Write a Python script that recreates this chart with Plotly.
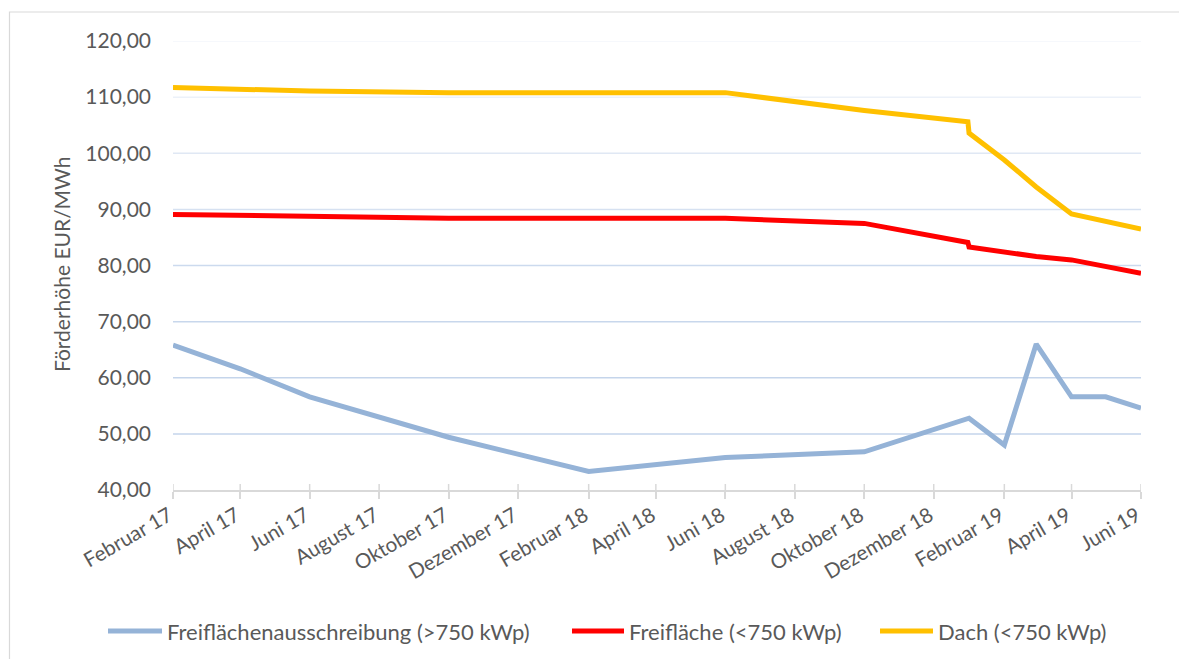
import plotly.graph_objects as go

# ---- data ----
blue_dates = ["2017-02-01", "2017-04-01", "2017-06-01", "2017-10-01", "2018-02-01",
              "2018-06-01", "2018-10-01", "2019-01-01", "2019-02-01", "2019-03-01",
              "2019-04-01", "2019-05-01", "2019-06-01"]
blue_vals = [65.8, 61.6, 56.6, 49.4, 43.3, 45.8, 46.8, 52.8, 48.0, 66.0, 56.6, 56.6, 54.6]

red_dates = ["2017-02-01", "2017-06-01", "2017-10-01", "2018-06-01", "2018-10-01",
             "2018-12-31", "2019-01-01", "2019-03-01", "2019-04-01", "2019-06-01"]
red_vals = [89.1, 88.7, 88.4, 88.4, 87.5, 84.1, 83.3, 81.6, 81.0, 78.6]

yellow_dates = ["2017-02-01", "2017-06-01", "2017-10-01", "2018-06-01", "2018-10-01",
                "2018-12-31", "2019-01-01", "2019-02-01", "2019-03-01", "2019-04-01",
                "2019-06-01"]
yellow_vals = [111.7, 111.1, 110.8, 110.8, 107.6, 105.6, 103.6, 98.8, 94.0, 89.2, 86.5]

series_names = ["Freiflächenausschreibung (>750 kWp)", "Freifläche (<750 kWp)", "Dach (<750 kWp)"]
series_colors = ["#95b3d7", "#ff0000", "#ffc000"]

x_tickvals = ["2017-02-01", "2017-04-01", "2017-06-01", "2017-08-01", "2017-10-01",
              "2017-12-01", "2018-02-01", "2018-04-01", "2018-06-01", "2018-08-01",
              "2018-10-01", "2018-12-01", "2019-02-01", "2019-04-01", "2019-06-01"]
x_ticktext = ["Februar 17", "April 17", "Juni 17", "August 17", "Oktober 17",
              "Dezember 17", "Februar 18", "April 18", "Juni 18", "August 18",
              "Oktober 18", "Dezember 18", "Februar 19", "April 19", "Juni 19"]
y_tickvals = [40, 50, 60, 70, 80, 90, 100, 110, 120]
grid_colors = ["#c5d5eb", "#c5d5eb", "#c8d7ec", "#ccdaee", "#d6e1f1", "#e0e8f4", "#ecf1f9", "#f3f6fb"]

FONT = "Lato"
TXT = "#595959"
AXIS_GREY = "#d9d9d9"

OFF = 8  # page body margin
W, H = 1179, 651
L, T = 165, 33
pw, ph = 968, 449
R, B = W - L - pw, H - T - ph


def px_x(px):
    return (px - OFF - L) / pw


def px_y(py):
    return (OFF + T + ph - py) / ph


fig = go.Figure()
for d, v, n, c in zip([blue_dates, red_dates, yellow_dates],
                      [blue_vals, red_vals, yellow_vals], series_names, series_colors):
    fig.add_trace(go.Scatter(x=d, y=v, mode="lines", name=n,
                             line=dict(color=c, width=5, shape="linear"),
                             showlegend=False))

shapes = []
# gridlines
for val, col in zip(y_tickvals[1:], grid_colors):
    shapes.append(dict(type="line", xref="paper", yref="y", x0=0, x1=1, y0=val, y1=val,
                       line=dict(color=col, width=1.5), layer="below"))
# upper half of the crossing tick marks
for tv in x_tickvals:
    shapes.append(dict(type="line", xref="x", yref="paper", x0=tv, x1=tv, y0=0, y1=6 / ph,
                       line=dict(color=AXIS_GREY, width=1.5), layer="below"))
# outer border
shapes.append(dict(type="rect", xref="paper", yref="paper",
                   x0=px_x(9.5), x1=px_x(1200), y0=px_y(672), y1=px_y(12),
                   line=dict(color=AXIS_GREY, width=1.2), layer="below"))

annotations = [dict(text="Förderhöhe EUR/MWh", xref="paper", yref="paper",
                    x=px_x(61), y=px_y(265), textangle=-90, showarrow=False,
                    font=dict(family=FONT, size=21, color=TXT),
                    xanchor="center", yanchor="middle")]

# manual legend
legend_items = [(108, 162, 165), (572, 624, 627), (880, 933, 936)]
ly = px_y(631)
for (xs, xe, xt), n, c in zip(legend_items, series_names, series_colors):
    shapes.append(dict(type="line", xref="paper", yref="paper", x0=px_x(xs), x1=px_x(xe),
                       y0=ly, y1=ly, line=dict(color=c, width=5)))
    annotations.append(dict(text=n, xref="paper", yref="paper", x=px_x(xt), y=ly,
                            xanchor="left", yanchor="middle", showarrow=False,
                            font=dict(family=FONT, size=22, color=TXT)))

fig.update_layout(
    width=W, height=H,
    margin=dict(l=L, r=R, t=T, b=B, autoexpand=False),
    paper_bgcolor="white", plot_bgcolor="white",
    separators=",.",
    shapes=shapes, annotations=annotations,
    xaxis=dict(type="date", range=["2017-02-01", "2019-06-01"],
               tickvals=x_tickvals, ticktext=x_ticktext, tickangle=-30,
               showgrid=False, showline=True, linecolor=AXIS_GREY, linewidth=1.5,
               ticks="outside", ticklen=7, tickcolor=AXIS_GREY, tickwidth=1.5,
               ticklabelshift=-4, ticklabelstandoff=-3,
               tickfont=dict(family=FONT, size=20.5, color=TXT), automargin=False),
    yaxis=dict(range=[40, 120], tickvals=y_tickvals, tickformat=".2f",
               showgrid=False, zeroline=False, showline=False,
               ticks="", ticklabelstandoff=21,
               tickfont=dict(family=FONT, size=21, color=TXT), automargin=False),
)

fig.write_html("out.html")
